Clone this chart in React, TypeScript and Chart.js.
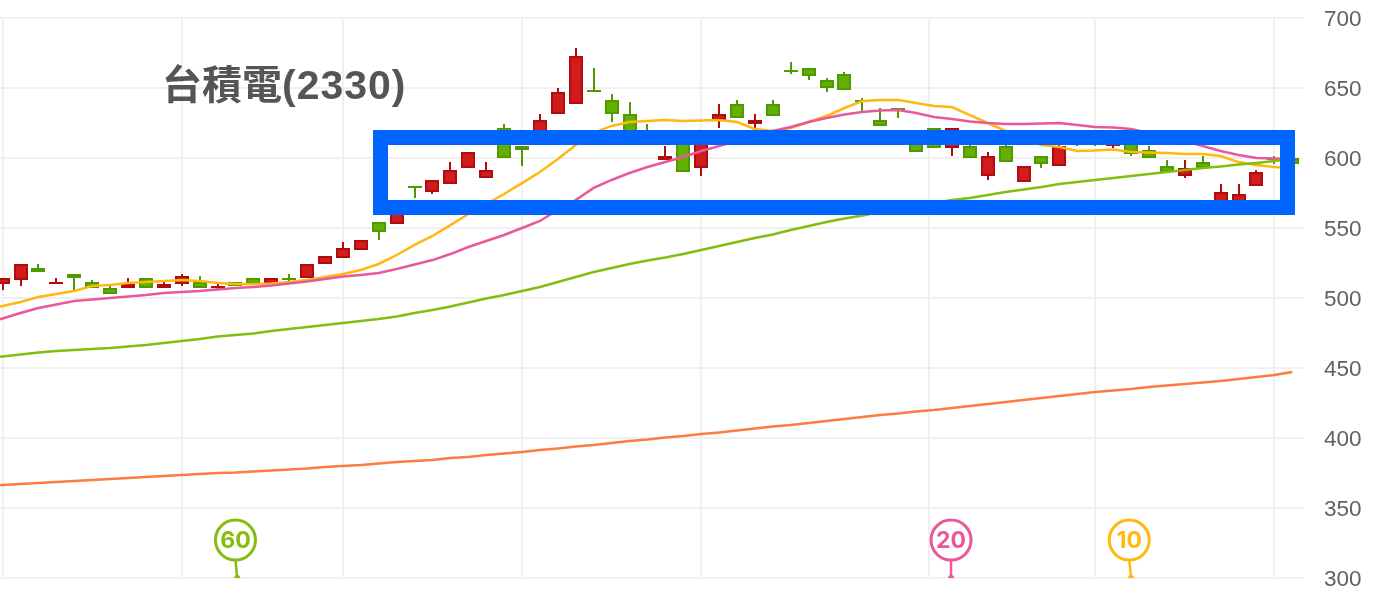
import { useEffect, useRef } from "react"
import { Chart, registerables } from "chart.js"

Chart.register(...registerables)

const titleName = "台積電"
const titleCode = "(2330)"

// daily candles, one per trading day
const opens = [510, 512.9, 521.4, 510, 517.1, 511.4, 507.1, 507.1, 514.3, 507.1, 510, 511.4, 507.1, 511.4, 514.3, 510, 514.3, 514.3, 524.3, 528.6, 534.3, 554.3, 552.9, 580, 575.7, 581.4, 592.9, 585.7, 621.4, 608.6, 612.9, 631.4, 638.6, 648.6, 641.4, 631.4, 616, 598.6, 612.9, 592.9, 627.1, 638.6, 624.3, 638.6, 662.9, 664.3, 655.7, 660, 641.4, 627.1, 635.7, 612.9, 621.4, 607.1, 608.6, 587.1, 608.6, 582.9, 601.4, 594.3, 616, 616, 608.6, 612, 605.7, 594.3, 587.1, 597.1, 567.1, 567.1, 580, 600, 600]
const closes = [514.3, 524.3, 518.6, 511.4, 514.3, 507.1, 502.9, 510, 507.1, 510, 515.7, 507.1, 508.6, 508.6, 510, 514.3, 512.9, 524.3, 530, 535.7, 541.4, 547.1, 566.4, 578.6, 584.3, 591.4, 604.3, 591.4, 600, 605.7, 627.1, 647.1, 672.9, 647.1, 631.4, 615.7, 612, 601.4, 590, 612.9, 631.4, 628.6, 627.1, 630, 661.4, 658.6, 650, 648.6, 640, 622.9, 634.3, 604.3, 607.1, 621.4, 600, 601.4, 597.1, 594.3, 595.7, 608.6, 613, 613, 613, 602.9, 600, 590, 592.9, 592.9, 575.7, 574.3, 590, 598.6, 595.7]
const highs = [514.3, 524.3, 524.3, 514.3, 517.1, 512.9, 508.6, 514.3, 514.3, 511.4, 517.1, 515.7, 511.4, 511.4, 514.3, 514.3, 517.1, 524.3, 530, 540, 541.4, 554.3, 566.4, 580, 584.3, 597.1, 604.3, 597.1, 624.3, 608.6, 631.4, 650, 678.6, 664.3, 645.7, 640, 624.3, 608.6, 612.9, 612.9, 638.6, 641.4, 631.4, 641.4, 668.6, 664.3, 657.1, 661.4, 642.9, 635.7, 635.7, 612.9, 621.4, 621.4, 612, 604.3, 612, 594.3, 601.4, 612, 618, 618, 616, 615, 608.6, 598.6, 598.6, 601.4, 581.4, 581.4, 591.4, 601.4, 600]
const lows = [505.7, 508.6, 518.6, 510, 504.3, 507.1, 502.9, 507.1, 507.1, 507.1, 508.6, 507.1, 505.7, 508.6, 510, 510, 510, 514.3, 524.3, 528.6, 534.3, 541.4, 552.9, 571.4, 574.3, 581.4, 592.9, 585.7, 600, 594.3, 612.9, 631.4, 638.6, 647.1, 625.7, 615.7, 610, 598.6, 590, 587.1, 621.4, 628.6, 620, 630, 660, 655.7, 647.1, 648.6, 633.6, 622.9, 628.6, 604.3, 607.1, 601.4, 600, 584.3, 597.1, 582.9, 592.9, 594.3, 608.6, 608.6, 607.1, 601.4, 600, 590, 585.7, 592.9, 567.1, 567.1, 580, 595.7, 595.7]

// moving averages, first value is the day before the first candle
const ma10 = [492.1, 494.3, 497.1, 500.7, 502.9, 505, 508.6, 509.3, 510.7, 511.4, 512.1, 512.9, 512.1, 510.7, 510, 510, 510.4, 511.4, 512.9, 515, 517.1, 520, 524.3, 530.7, 537.9, 544.3, 552.1, 560, 567.1, 574.3, 582.1, 590, 599.3, 609.3, 617.9, 622.9, 625.7, 626.4, 627.1, 626.4, 626.8, 627.1, 625.7, 620.7, 619.3, 621.4, 625.7, 630, 635.7, 640.7, 641.4, 641.4, 639.3, 637.1, 636.4, 630.7, 625, 619.3, 613.6, 609.3, 607.9, 605, 605.4, 606.1, 604.3, 603.9, 603.6, 602.9, 602.9, 601.4, 597.1, 595, 593.6, 592.9]
const ma20 = [482, 485.4, 489.3, 492.9, 495.4, 497.9, 498.9, 500, 501.1, 502.1, 503.6, 504.3, 505, 506.1, 507.1, 507.9, 508.9, 510.4, 511.8, 513.6, 515.4, 516.4, 517.9, 520.7, 523.9, 527.1, 531.4, 536.4, 540.7, 545, 550, 555, 562.9, 570, 578.6, 584.3, 589.3, 593.6, 597.1, 600.7, 605, 608.6, 612.1, 615.7, 619.3, 622.1, 625.7, 628.6, 631.1, 632.9, 633.9, 634.3, 632.1, 629.3, 627.9, 626.1, 625, 624.3, 624.3, 624.6, 625, 623.6, 622.1, 621.8, 620.7, 617.9, 615, 612.1, 608.6, 605, 602.1, 600, 599.6, 599.3]
const ma60 = [457, 458.2, 459.6, 461, 462.1, 462.9, 463.6, 464.3, 465.4, 466.4, 467.9, 469.3, 470.7, 472.5, 473.6, 474.6, 476.4, 477.9, 479.3, 480.7, 482.1, 483.6, 485, 486.8, 489.3, 491.4, 493.9, 496.8, 499.6, 502.1, 505, 507.9, 511.4, 515, 518.6, 521.4, 524.3, 526.8, 528.9, 531.4, 534.3, 537.1, 540, 542.9, 545.4, 548.6, 551.4, 554.3, 556.8, 558.9, 561.4, 563.6, 565.7, 567.9, 570, 571.4, 573.6, 575.7, 577.5, 579.3, 581.4, 582.9, 584.3, 585.7, 587.1, 588.6, 590, 591.4, 592.9, 593.9, 595.4, 596.4, 597.9, 599.3]
const ma240 = [365.7, 366.4, 367.1, 367.9, 368.6, 369.3, 370, 370.7, 371.4, 372.1, 372.9, 373.6, 374.3, 375, 375.4, 376.1, 376.8, 377.5, 378.2, 379.3, 380, 380.7, 381.8, 382.9, 383.6, 384.3, 385.7, 386.4, 387.9, 388.9, 390, 391.4, 392.5, 393.9, 395, 396.4, 397.9, 398.9, 400.4, 401.4, 402.9, 403.9, 405.4, 406.8, 408.2, 409.3, 410.7, 412.1, 413.6, 415, 416.4, 417.5, 418.9, 420, 421.4, 422.9, 424.3, 425.7, 427.1, 428.6, 430, 431.4, 432.9, 433.9, 435, 436.4, 437.5, 438.6, 439.6, 440.7, 442.1, 443.6, 445, 447.1]

const gridDays = [0, 10, 19, 29, 39, 51.7, 61, 71]

const badgeLabels = ["60", "20", "10"]
const badgeDays = [13, 52.95, 62.9]
const badgeTips = [13.1, 52.95, 63]
const badgeColors = ["#84bd10", "#e8589b", "#ffb80f"]

// blue selection box, in day / price units
const boxDays = [21.05, 71.7]
const boxPrices = [565, 615]

const RED = "#d21c1c"
const RED_DARK = "#b00c10"
const GREEN = "#64af00"
const GREEN_DARK = "#4e9a00"

const candleDays = opens.map((_, i) => i)
const isUp = closes.map((c, i) => c > opens[i])

const lineData = (values: number[]) => values.map((y, i) => ({ x: i - 1, y }))

const maLine = (values: number[], color: string) => ({
  type: "line" as const,
  data: lineData(values),
  borderColor: color,
  borderWidth: 2.5,
  pointRadius: 0,
  tension: 0,
  order: 0,
})

// keep the candles on whole pixels so the edges stay crisp
const snapBars = {
  id: "snapBars",
  beforeDatasetsDraw(chart: Chart) {
    chart.data.datasets.forEach((ds: any, i: number) => {
      if (ds.type !== "bar") return
      chart.getDatasetMeta(i).data.forEach((bar: any) => {
        bar.x = Math.round(bar.x)
        bar.y = Math.round(bar.y)
        bar.base = Math.round(bar.base)
      })
    })
  },
}

const overlay = {
  id: "overlay",
  afterDraw(chart: Chart) {
    const { ctx, scales } = chart
    const x = scales.x
    const y = scales.y

    ctx.save()
    ctx.strokeStyle = "#0064ff"
    ctx.lineWidth = 15
    const left = Math.round(x.getPixelForValue(boxDays[0]))
    const right = Math.round(x.getPixelForValue(boxDays[1]))
    const top = Math.round(y.getPixelForValue(boxPrices[1]))
    const bottom = Math.round(y.getPixelForValue(boxPrices[0]))
    ctx.strokeRect(left + 0.5, top + 0.5, right - left, bottom - top)

    badgeLabels.forEach((label, i) => {
      const cx = x.getPixelForValue(badgeDays[i])
      const cy = y.getPixelForValue(327.1)
      const tipX = x.getPixelForValue(badgeTips[i])
      const tipY = y.getPixelForValue(300)
      ctx.strokeStyle = badgeColors[i]
      ctx.fillStyle = badgeColors[i]
      ctx.lineWidth = 3
      ctx.beginPath()
      ctx.arc(cx, cy, 20, 0, Math.PI * 2)
      ctx.stroke()
      ctx.lineWidth = 2.5
      ctx.beginPath()
      ctx.moveTo(cx, cy + 20)
      ctx.lineTo(tipX, tipY)
      ctx.stroke()
      ctx.beginPath()
      ctx.arc(tipX, tipY, 3, Math.PI, 0)
      ctx.fill()
      ctx.font = "bold 23px Inter"
      ctx.textAlign = "center"
      ctx.textBaseline = "middle"
      ctx.fillText(label, cx, cy + 1)
    })
    ctx.restore()
  },
}

export default function App() {
  const chartRef = useRef<HTMLCanvasElement>(null)

  useEffect(() => {
    if (!chartRef.current) return
    document.body.style.margin = "0"

    const chart = new Chart(chartRef.current, {
      type: "bar",
      data: {
        datasets: [
          maLine(ma240, "#ff7b41"),
          maLine(ma60, "#84bd10"),
          maLine(ma20, "#e8589b"),
          maLine(ma10, "#ffb80f"),
          {
            type: "bar",
            // candle bodies
            data: candleDays.map((x) => ({ x, y: [opens[x], closes[x]] })),
            backgroundColor: isUp.map((up) => (up ? RED : GREEN)),
            borderColor: isUp.map((up) => (up ? RED_DARK : GREEN_DARK)),
            borderWidth: 2,
            borderSkipped: false,
            inflateAmount: 0,
            barThickness: 14,
            grouped: false,
            order: 1,
          },
          {
            type: "bar",
            // high-low wicks
            data: candleDays.map((x) => ({ x, y: [lows[x], highs[x]] })),
            backgroundColor: isUp.map((up) => (up ? RED_DARK : GREEN_DARK)),
            borderWidth: 0,
            inflateAmount: 0,
            barThickness: 2,
            grouped: false,
            order: 2,
          },
        ] as any,
      },
      options: {
        responsive: false,
        animation: false,
        parsing: { xAxisKey: "x", yAxisKey: "y" } as any,
        layout: { autoPadding: false, padding: { top: 18, bottom: 12, left: 0, right: 0 } },
        plugins: {
          legend: { display: false },
          tooltip: { enabled: false },
        },
        scales: {
          x: {
            type: "linear",
            min: -0.145,
            max: 72.6,
            offset: false,
            afterBuildTicks: (scale: any) => {
              scale.ticks = gridDays.map((value) => ({ value }))
            },
            afterFit: (scale: any) => {
              scale.height = 0
              scale.paddingTop = 0
              scale.paddingBottom = 0
            },
            ticks: { display: false, padding: 0 },
            grid: { offset: false, color: "#f0f0f0", lineWidth: 2, drawTicks: false },
            border: { display: false },
          },
          y: {
            position: "right",
            min: 300,
            max: 700,
            afterFit: (scale: any) => {
              scale.width = 75
              scale.paddingTop = 0
              scale.paddingBottom = 0
            },
            ticks: {
              stepSize: 50,
              padding: 21,
              labelOffset: 1.5,
              color: "#626262",
              font: { family: "Liberation Sans", size: 22.5 },
            },
            grid: { color: "#f0f0f0", lineWidth: 2, drawTicks: false },
            border: { display: false },
          },
        },
      },
      plugins: [snapBars, overlay],
    })

    return () => chart.destroy()
  }, [])

  return (
    <div style={{ position: "relative", width: 1378, height: 590 }}>
      <canvas ref={chartRef} width={1378} height={590} style={{ display: "block" }} />
      <div
        style={{
          position: "absolute",
          left: 162,
          top: 60,
          fontFamily: '"Liberation Sans", "Noto Sans CJK TC", sans-serif',
          fontWeight: 700,
          fontSize: 40,
          lineHeight: "50px",
          color: "#555555",
          whiteSpace: "nowrap",
        }}
      >
        {titleName}
        <span style={{ fontSize: 41, letterSpacing: 1 }}>{titleCode}</span>
      </div>
    </div>
  )
}
